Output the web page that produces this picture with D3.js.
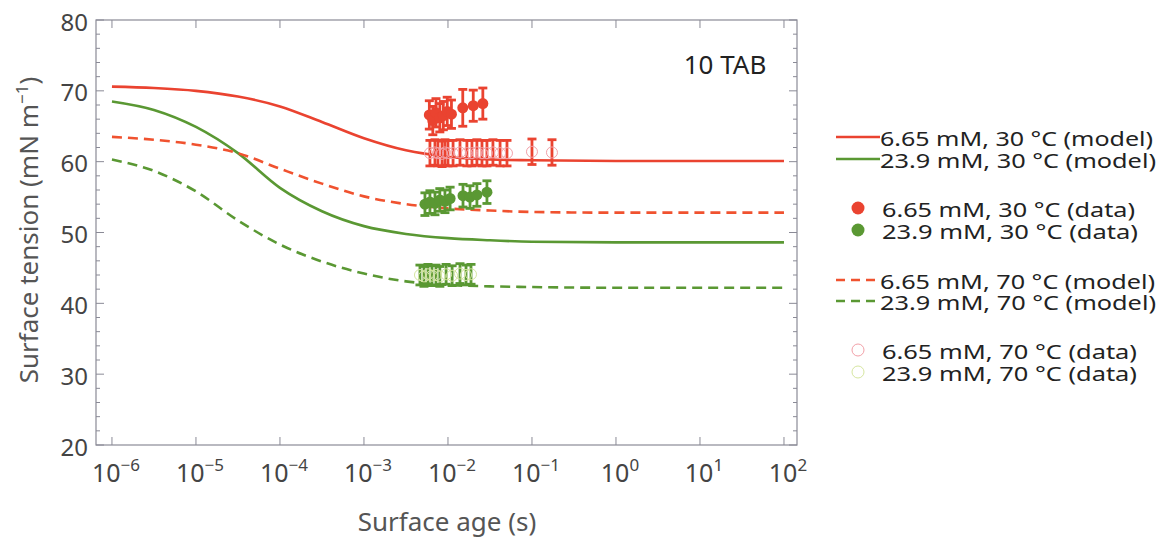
<!DOCTYPE html>
<html lang="en">
<head>
<meta charset="UTF-8">
<title>Surface tension vs surface age</title>
<style>
  body { margin: 0; background: #fff; }
  svg text { font-family: "Noto Sans", "Open Sans", sans-serif; }
</style>
</head>
<body>
<div id="chart"></div>
<script src="https://d3js.org/d3.v7.min.js"></script>
<script>
// model curves: surface age (s) and surface tension (mN/m)
const modelT = [1e-6, 3.16e-6, 1e-5, 3.16e-5, 1e-4, 3.16e-4, 1e-3, 3.16e-3, 1e-2, 3.16e-2, 1e-1, 1, 10, 100]
const red30Model   = [70.6, 70.4, 70.0, 69.2, 67.8, 65.6, 63.3, 61.6, 60.7, 60.3, 60.2, 60.1, 60.1, 60.1]
const green30Model = [68.5, 67.3, 64.9, 61.2, 56.3, 53.0, 50.9, 49.8, 49.2, 48.9, 48.7, 48.6, 48.6, 48.6]
const red70Model   = [63.5, 63.1, 62.4, 61.2, 59.0, 56.9, 55.1, 54.0, 53.4, 53.1, 52.9, 52.8, 52.8, 52.8]
const green70Model = [60.3, 58.7, 55.8, 51.7, 48.3, 45.9, 44.2, 43.1, 42.6, 42.4, 42.3, 42.2, 42.2, 42.2]

// measured data
const red30T = [0.0060, 0.0066, 0.0072, 0.0080, 0.0088, 0.0098, 0.0110, 0.0150, 0.0200, 0.0260]
const red30V = [66.6, 65.8, 66.9, 66.2, 66.5, 67.1, 66.7, 67.6, 67.9, 68.2]
const red30E = [2.0, 2.0, 2.0, 2.0, 2.0, 2.0, 2.0, 2.6, 2.2, 2.2]

const red70T = [0.0061, 0.0070, 0.0076, 0.0085, 0.0092, 0.0100, 0.0115, 0.0139, 0.0168, 0.0193,
                0.0221, 0.0254, 0.0291, 0.0343, 0.0417, 0.0504, 0.100, 0.173]
const red70V = [61.2, 61.3, 61.2, 61.1, 61.3, 61.2, 61.2, 61.3, 61.2, 61.2,
                61.3, 61.2, 61.2, 61.3, 61.2, 61.2, 61.4, 61.3]
const red70E = [1.8, 1.8, 1.8, 1.8, 1.8, 1.8, 1.8, 1.8, 1.8, 1.8,
                1.8, 1.8, 1.8, 1.8, 1.8, 1.8, 1.8, 1.8]

const green30T = [0.00532, 0.0061, 0.0070, 0.0080, 0.0092, 0.0106, 0.0151, 0.0183, 0.0221, 0.0291]
const green30V = [54.0, 54.3, 54.1, 54.6, 54.4, 54.8, 55.2, 55.0, 55.3, 55.7]
const green30E = [1.6, 1.6, 1.6, 1.6, 1.6, 1.6, 1.6, 1.6, 1.6, 1.6]

const green70T = [0.00464, 0.00518, 0.00578, 0.00645, 0.0072, 0.0080, 0.0095, 0.0112, 0.0139, 0.0164, 0.0188]
const green70V = [44.0, 43.8, 44.1, 43.9, 44.0, 43.8, 44.1, 43.9, 44.2, 44.0, 44.1]
const green70E = [1.4, 1.4, 1.4, 1.4, 1.4, 1.4, 1.4, 1.4, 1.4, 1.4, 1.4]

const xTicks = [1e-6, 1e-5, 1e-4, 1e-3, 1e-2, 1e-1, 1, 10, 100]
const yTicks = [20, 30, 40, 50, 60, 70, 80]
const legendLabels = [
  '6.65 mM, 30 °C (model)', '23.9 mM, 30 °C (model)',
  '6.65 mM, 30 °C (data)', '23.9 mM, 30 °C (data)',
  '6.65 mM, 70 °C (model)', '23.9 mM, 70 °C (model)',
  '6.65 mM, 70 °C (data)', '23.9 mM, 70 °C (data)'
]

const RED = '#ea4330'
const RED2 = '#f0522f'
const GREEN = '#5a9833'
const RED_OPEN = '#f2a0a8'
const GREEN_OPEN = '#d6e6a0'

const width = 1162
const height = 540
const plot = { left: 96, right: 797, top: 20, bottom: 445 }

const svg = d3.select('#chart').append('svg')
  .attr('width', width)
  .attr('height', height)

const x = d3.scaleLog()
  .domain([Math.pow(10, -6.19), Math.pow(10, 2.155)])
  .range([plot.left, plot.right])
const y = d3.scaleLinear()
  .domain([20, 80])
  .range([plot.bottom, plot.top])

// frame
svg.append('rect')
  .attr('x', plot.left).attr('y', plot.top)
  .attr('width', plot.right - plot.left).attr('height', plot.bottom - plot.top)
  .attr('fill', 'none').attr('stroke', '#8a8a96').attr('stroke-width', 1.2)

// ticks, all pointing inward, mirrored on the opposite side
const yMinor = d3.range(20, 81, 2)
const tickG = svg.append('g').attr('stroke', '#8a8a96').attr('stroke-width', 1)
tickG.selectAll('.yl').data(yMinor).enter().append('line')
  .attr('x1', plot.left).attr('x2', d => plot.left + (d % 10 === 0 ? 8 : 4))
  .attr('y1', d => y(d)).attr('y2', d => y(d))
tickG.selectAll('.yr').data(yMinor).enter().append('line')
  .attr('x1', plot.right).attr('x2', d => plot.right - (d % 10 === 0 ? 8 : 4))
  .attr('y1', d => y(d)).attr('y2', d => y(d))
tickG.selectAll('.xb').data(xTicks).enter().append('line')
  .attr('x1', d => x(d)).attr('x2', d => x(d))
  .attr('y1', plot.bottom).attr('y2', plot.bottom - 8)
tickG.selectAll('.xt').data(xTicks).enter().append('line')
  .attr('x1', d => x(d)).attr('x2', d => x(d))
  .attr('y1', plot.top).attr('y2', plot.top + 8)

// tick labels
svg.append('g').selectAll('text').data(yTicks).enter().append('text')
  .attr('x', plot.left - 8).attr('y', d => y(d) + 1)
  .attr('text-anchor', 'end').attr('dominant-baseline', 'central')
  .attr('font-size', 24).attr('fill', '#444')
  .text(d => d)

const xl = svg.append('g').selectAll('text').data(xTicks).enter().append('text')
  .attr('x', d => x(d) + 4).attr('y', plot.bottom + 37)
  .attr('text-anchor', 'middle')
  .attr('font-size', 25).attr('fill', '#444')
xl.append('tspan').text('10')
xl.append('tspan').attr('dy', -11).attr('font-size', 17)
  .text(d => { const e = Math.round(Math.log10(d)); return e < 0 ? '\u2212' + (-e) : String(e) })

// axis titles
svg.append('text')
  .attr('x', 447).attr('y', 531)
  .attr('text-anchor', 'middle').attr('font-size', 26).attr('fill', '#555')
  .text('Surface age (s)')
const yt = svg.append('text')
  .attr('transform', `translate(38, 230) rotate(-90)`)
  .attr('text-anchor', 'middle').attr('font-size', 26).attr('fill', '#555')
yt.append('tspan').text('Surface tension (mN m')
yt.append('tspan').attr('dy', -10).attr('font-size', 17).text('\u22121')
yt.append('tspan').attr('dy', 10).text(')')

svg.append('text')
  .attr('x', 725).attr('y', 64)
  .attr('text-anchor', 'middle').attr('dominant-baseline', 'central')
  .attr('font-size', 26).attr('fill', '#222')
  .text('10 TAB')

// model lines
const line = d3.line()
  .x((d, i) => x(modelT[i]))
  .y(d => y(d))
  .curve(d3.curveMonotoneX)

const models = [
  { v: red30Model, c: RED, dash: null },
  { v: green30Model, c: GREEN, dash: null },
  { v: red70Model, c: RED2, dash: '10,6' },
  { v: green70Model, c: GREEN, dash: '10,6' }
]
svg.append('g').selectAll('path').data(models).enter().append('path')
  .attr('d', d => line(d.v))
  .attr('fill', 'none')
  .attr('stroke', d => d.c)
  .attr('stroke-width', 2.6)
  .attr('stroke-dasharray', d => d.dash)

// data with error bars
function drawData(ts, vs, es, barColor, markFill, markStroke) {
  const pts = ts.map((t, i) => ({ t, v: vs[i], e: es[i] }))
  const g = svg.append('g')
  const bars = g.selectAll('g').data(pts).enter().append('g')
    .attr('stroke', barColor).attr('stroke-width', 2.8)
  bars.append('line')
    .attr('x1', d => x(d.t)).attr('x2', d => x(d.t))
    .attr('y1', d => y(d.v - d.e)).attr('y2', d => y(d.v + d.e))
  bars.append('line')
    .attr('x1', d => x(d.t) - 4.5).attr('x2', d => x(d.t) + 4.5)
    .attr('y1', d => y(d.v - d.e)).attr('y2', d => y(d.v - d.e))
  bars.append('line')
    .attr('x1', d => x(d.t) - 4.5).attr('x2', d => x(d.t) + 4.5)
    .attr('y1', d => y(d.v + d.e)).attr('y2', d => y(d.v + d.e))
  g.selectAll('circle').data(pts).enter().append('circle')
    .attr('cx', d => x(d.t)).attr('cy', d => y(d.v))
    .attr('r', 5.5)
    .attr('fill', markFill)
    .attr('stroke', markStroke)
    .attr('stroke-width', 1)
}
drawData(red70T, red70V, red70E, RED, 'none', RED_OPEN)
drawData(green70T, green70V, green70E, GREEN, 'none', GREEN_OPEN)
drawData(red30T, red30V, red30E, RED, RED, 'none')
drawData(green30T, green30V, green30E, GREEN, GREEN, 'none')

// legend
const legendY = [137, 159, 208, 230, 280, 301, 350, 372]
const legendKind = ['line', 'line', 'dot', 'dot', 'dash', 'dash', 'open', 'open']
const legendColor = [RED, GREEN, RED, GREEN, RED2, GREEN, RED_OPEN, GREEN_OPEN]
const legendW = [273, 276, 253, 256, 275, 276, 255, 255]
const leg = svg.append('g').selectAll('g').data(legendLabels).enter().append('g')
  .attr('transform', (d, i) => `translate(0, ${legendY[i]})`)
leg.append('text')
  .attr('x', (d, i) => legendKind[i] === 'line' || legendKind[i] === 'dash' ? 880 : 882)
  .attr('y', 1)
  .attr('dominant-baseline', 'central')
  .attr('font-size', 20).attr('fill', '#222')
  .attr('textLength', (d, i) => legendW[i])
  .attr('lengthAdjust', 'spacingAndGlyphs')
  .text(d => d)
leg.each(function (d, i) {
  const g = d3.select(this)
  const k = legendKind[i]
  if (k === 'line' || k === 'dash') {
    g.append('line')
      .attr('x1', 836).attr('x2', 880).attr('y1', 0).attr('y2', 0)
      .attr('stroke', legendColor[i]).attr('stroke-width', 2.4)
      .attr('stroke-dasharray', k === 'dash' ? '9,6' : null)
  } else {
    g.append('circle')
      .attr('cx', 858).attr('cy', 0).attr('r', k === 'dot' ? 6.5 : 6)
      .attr('fill', k === 'dot' ? legendColor[i] : 'none')
      .attr('stroke', k === 'open' ? legendColor[i] : 'none')
  }
})
</script>
</body>
</html>
